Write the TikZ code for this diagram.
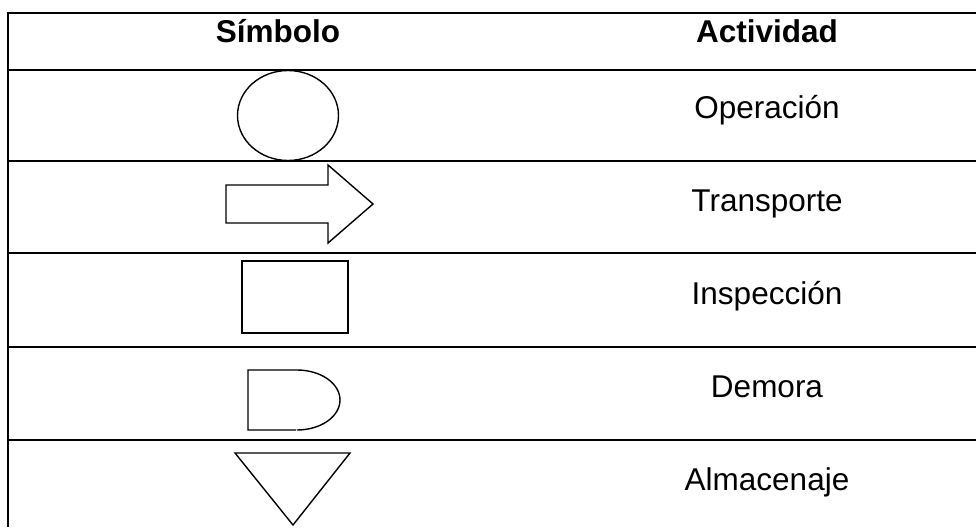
\documentclass[tikz,border=0pt]{standalone}
\usepackage{fontspec}
\setmainfont{Liberation Sans}
\usetikzlibrary{shapes.geometric}
\begin{document}
\begin{tikzpicture}[x=1pt,y=-1pt,
  rule/.style={line width=2.2pt},
  sym/.style={draw,line width=1.4pt},
  head/.style={anchor=base,font=\fontsize{31.5}{36}\selectfont\bfseries},
  act/.style={anchor=base,font=\fontsize{31.5}{36}\selectfont}]
\useasboundingbox (0,0) rectangle (976,527);
\fill[white] (0,0) rectangle (976,527);
% table rules
\draw[rule] (8,13) -- (976,13);
\draw[rule] (8,70) -- (976,70);
\draw[rule] (8,161) -- (976,161);
\draw[rule] (8,253) -- (976,253);
\draw[rule] (8,347) -- (976,347);
\draw[rule] (8,440) -- (976,440);
\draw[rule] (8,12) -- (8,527);
% headers
\node[head] (hs) at (278,43) {Símbolo};
\node[head] (ha) at (767,43) {Actividad};
% activities
\node[act] (a1) at (767,118) {Operación};
\node[act] (a2) at (767,211) {Transporte};
\node[act] (a3) at (767,304) {Inspección};
\node[act] (a4) at (767,397) {Demora};
\node[act] (a5) at (767,490) {Almacenaje};
% symbols
\node[sym,ellipse,minimum width=101pt,minimum height=90pt,inner sep=0pt] (op) at (288,115.5) {};
\draw[sym,line join=miter] (226,185) -- (328,185) -- (328,165) -- (373,204) -- (328,243) -- (328,223) -- (226,223) -- cycle;
\node[sym,rectangle,minimum width=106pt,minimum height=72pt,inner sep=0pt] (insp) at (295,297) {};
\draw[sym] (296,430) -- (248,430) -- (248,370) -- (297,370) arc[start angle=-90,end angle=90,x radius=43,y radius=30];
\draw[sym,line join=miter] (235,453) -- (350,453) -- (293,525) -- cycle;
\end{tikzpicture}
\end{document}
